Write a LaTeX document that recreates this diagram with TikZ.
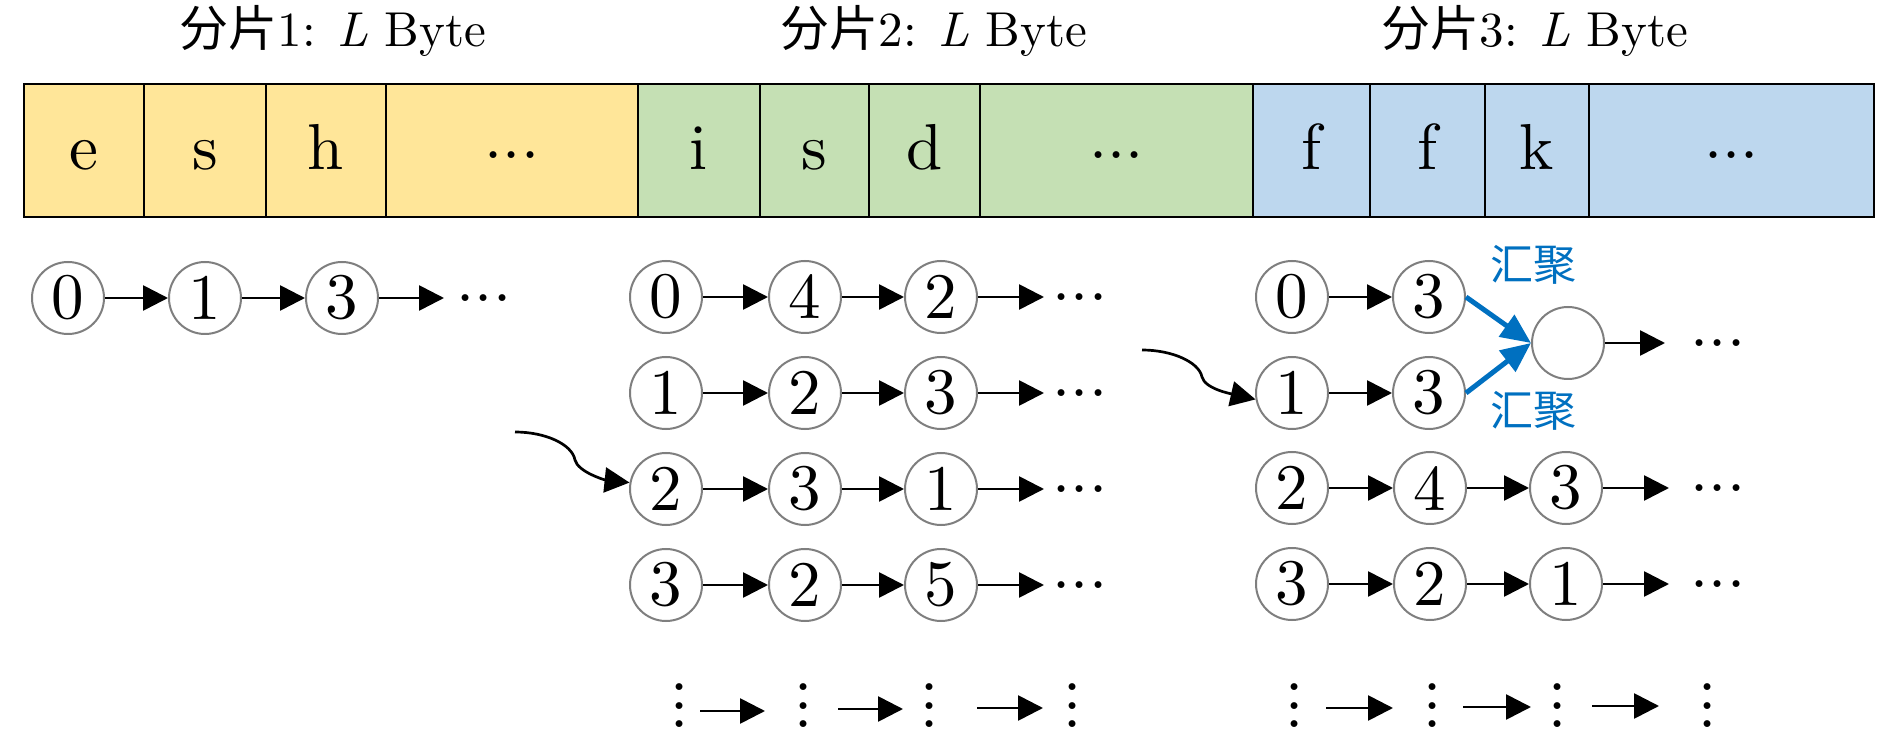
\documentclass[tikz,border=0pt]{standalone}
\usepackage{fontspec}
\setmainfont{lmroman10}[Extension=.otf, UprightFont=*-regular, ItalicFont=*-italic, BoldFont=*-bold]
\newfontfamily\cjk{Noto Sans CJK SC}
\usetikzlibrary{arrows.meta}
\definecolor{yel}{HTML}{FFE699}
\definecolor{grn}{HTML}{C5E0B4}
\definecolor{blu}{HTML}{BDD7EE}
\definecolor{lnk}{HTML}{0070C0}
\definecolor{cgray}{HTML}{7F7F7F}
\newcommand{\vdotsx}{\vbox{\baselineskip=9.25pt\lineskiplimit=0pt\hbox{.}\hbox{.}\hbox{.}}}
\begin{document}
\begin{tikzpicture}[x=0.5pt,y=-0.5pt,
 cellbox/.style={draw=black, fill=#1, line width=1.3pt, minimum height=66.5pt, inner sep=0pt,
   text height=22pt, text depth=2.5pt, font=\fontsize{32.5pt}{39pt}\selectfont},
 numnode/.style={circle, draw=cgray, line width=1pt, minimum size=36pt, inner sep=0pt,
   fill=white, font=\fontsize{32.5pt}{39pt}\selectfont},
 arr/.style={-{Triangle[length=12.5pt,width=12.5pt]}, line width=1.35pt},
 barr/.style={-{Triangle[length=15pt,width=13pt]}, line width=2.5pt, draw=lnk},
 titletext/.style={anchor=base, inner sep=0pt, font=\fontsize{24.5pt}{29pt}\selectfont},
 hdots/.style={anchor=base, inner sep=0pt, font=\fontsize{32.5pt}{39pt}\selectfont},
 vdot/.style={inner sep=0pt, font=\fontsize{32.5pt}{39pt}\selectfont},
 blab/.style={text=lnk, inner sep=0pt, font=\fontsize{21.5pt}{26pt}\cjk}
]
\useasboundingbox (0,0) rectangle (1890,732);

% titles
\node[titletext] (t1) at (333,47) {{\cjk 分片}1: \textit{L} Byte};
\node[titletext] (t2) at (934,47) {{\cjk 分片}2: \textit{L} Byte};
\node[titletext] (t3) at (1535,47) {{\cjk 分片}3: \textit{L} Byte};

% byte cells
\node[cellbox=yel, minimum width=60pt]   (y1) at (84,150.5) {e};
\node[cellbox=yel, minimum width=61pt]   (y2) at (205,150.5) {s};
\node[cellbox=yel, minimum width=60pt]   (y3) at (326,150.5) {h};
\node[cellbox=yel, minimum width=126pt]  (y4) at (512,150.5) {\raisebox{0.18em}{...}};
\node[cellbox=grn, minimum width=61pt]   (g1) at (699,150.5) {i};
\node[cellbox=grn, minimum width=54.5pt] (g2) at (814.5,150.5) {s};
\node[cellbox=grn, minimum width=55.5pt] (g3) at (924.5,150.5) {d};
\node[cellbox=grn, minimum width=136.5pt] (g4) at (1116.5,150.5) {\raisebox{0.18em}{...}};
\node[cellbox=blu, minimum width=58.5pt] (b1) at (1311.5,150.5) {f};
\node[cellbox=blu, minimum width=57.5pt] (b2) at (1427.5,150.5) {f};
\node[cellbox=blu, minimum width=52pt]   (b3) at (1537,150.5) {k};
\node[cellbox=blu, minimum width=142.5pt] (b4) at (1731.5,150.5) {\raisebox{0.18em}{...}};

% left chain
\node[numnode] (a1) at (68,298) {0};
\node[numnode] (a2) at (205,298) {1};
\node[numnode] (a3) at (342,298) {3};
\coordinate (a4) at (444,298);
\node[hdots] (ad) at (484,301.5) {...};
\draw[arr] (a1) -- (a2);
\draw[arr] (a2) -- (a3);
\draw[arr] (a3) -- (a4);

% middle chains
\node[numnode] (m11) at (666,297) {0};
\node[numnode] (m12) at (805,297) {4};
\node[numnode] (m13) at (941,297) {2};
\coordinate (m14) at (1044,297);
\node[hdots] (md1) at (1080,300.5) {...};
\node[numnode] (m21) at (666,393) {1};
\node[numnode] (m22) at (805,393) {2};
\node[numnode] (m23) at (941,393) {3};
\coordinate (m24) at (1044,393);
\node[hdots] (md2) at (1080,396.5) {...};
\node[numnode] (m31) at (666,489) {2};
\node[numnode] (m32) at (805,489) {3};
\node[numnode] (m33) at (941,489) {1};
\coordinate (m34) at (1044,489);
\node[hdots] (md3) at (1080,492.5) {...};
\node[numnode] (m41) at (666,585) {3};
\node[numnode] (m42) at (805,585) {2};
\node[numnode] (m43) at (941,585) {5};
\coordinate (m44) at (1044,585);
\node[hdots] (md4) at (1080,588.5) {...};
\foreach \r in {1,2,3,4}{
  \draw[arr] (m\r1) -- (m\r2);
  \draw[arr] (m\r2) -- (m\r3);
  \draw[arr] (m\r3) -- (m\r4);
}

% middle wavy arrow
\coordinate (w1) at (515,432);
\draw[arr] (w1) .. controls (545,432) and (572,444) .. (575,460)
  .. controls (578,472) and (605,480) .. (m31.170);

% middle vertical dots
\node[vdot] (mv1) at (680,706) {\vdotsx};
\node[vdot] (mv2) at (804,706) {\vdotsx};
\node[vdot] (mv3) at (930,706) {\vdotsx};
\node[vdot] (mv4) at (1073,706) {\vdotsx};
\coordinate (ma1) at (700,711); \coordinate (mb1) at (765,711);
\coordinate (ma2) at (838,709); \coordinate (mb2) at (903,709);
\coordinate (ma3) at (977,708); \coordinate (mb3) at (1043,708);
\draw[arr] (ma1) -- (mb1);
\draw[arr] (ma2) -- (mb2);
\draw[arr] (ma3) -- (mb3);

% right chains
\node[numnode] (r11) at (1292,297) {0};
\node[numnode] (r12) at (1429,297) {3};
\node[numnode] (r21) at (1292,393) {1};
\node[numnode] (r22) at (1429,393) {3};
\node[numnode] (re) at (1568,343) {};
\coordinate (rt) at (1665,343);
\node[hdots] (rd0) at (1718,346.5) {...};
\draw[arr] (r11) -- (r12);
\draw[arr] (r21) -- (r22);
\draw[barr] (r12.east) -- (re.west);
\draw[barr] (r22.east) -- (re.west);
\draw[arr] (re) -- (rt);
\node[blab] (l1) at (1533,265) {汇聚};
\node[blab] (l2) at (1533,411) {汇聚};

\node[numnode] (r31) at (1292,488) {2};
\node[numnode] (r32) at (1430,488) {4};
\node[numnode] (r33) at (1566,488) {3};
\coordinate (r34) at (1669,488);
\node[hdots] (rd3) at (1718,491.5) {...};
\node[numnode] (r41) at (1292,584) {3};
\node[numnode] (r42) at (1430,584) {2};
\node[numnode] (r43) at (1566,584) {1};
\coordinate (r44) at (1669,584);
\node[hdots] (rd4) at (1718,587.5) {...};
\foreach \r in {3,4}{
  \draw[arr] (r\r1) -- (r\r2);
  \draw[arr] (r\r2) -- (r\r3);
  \draw[arr] (r\r3) -- (r\r4);
}

% right wavy arrow
\coordinate (w2) at (1142,350);
\draw[arr] (w2) .. controls (1172,350) and (1199,362) .. (1202,377)
  .. controls (1205,389) and (1232,394) .. (r21.190);

% right vertical dots
\node[vdot] (rv1) at (1295,706) {\vdotsx};
\node[vdot] (rv2) at (1433,706) {\vdotsx};
\node[vdot] (rv3) at (1558,706) {\vdotsx};
\node[vdot] (rv4) at (1708,706) {\vdotsx};
\coordinate (ra1) at (1326,708); \coordinate (rb1) at (1393,708);
\coordinate (ra2) at (1463,707); \coordinate (rb2) at (1531,707);
\coordinate (ra3) at (1592,706); \coordinate (rb3) at (1659,706);
\draw[arr] (ra1) -- (rb1);
\draw[arr] (ra2) -- (rb2);
\draw[arr] (ra3) -- (rb3);
\end{tikzpicture}
\end{document}
